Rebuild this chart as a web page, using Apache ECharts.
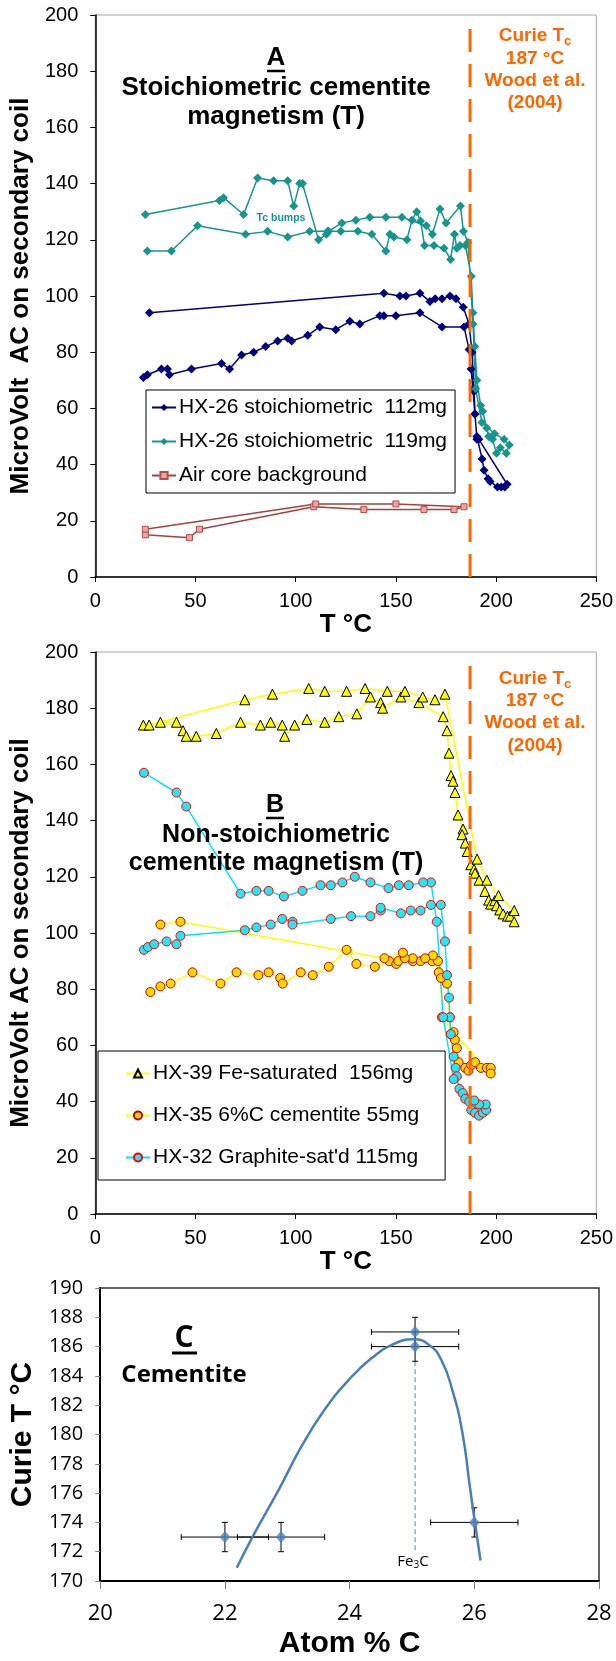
<!DOCTYPE html>
<html>
<head>
<meta charset="utf-8">
<script src="https://cdn.jsdelivr.net/npm/echarts@6/dist/echarts.min.js"></script>
<style>html,body{margin:0;padding:0;background:#fff}#c{width:616px;height:1661px}</style>
</head>
<body>
<div id="c"></div>
<script>
// ---------- Panel A data: [T °C, microvolt] ----------
const hx26_112 = [[24,71],[26,72],[33,74],[36,74],[37,72],[48,74],[63,76],[67,74],[73,79],[79,80],[85,82],[91,84],[96,85],[98,84],[106,86],[112,89],[120,88],[127,91],[132,90],[142,93],[144,93],[150,93],[162,94],[173,89],[184,89],
  [186.5,81],[187.5,74],[188.4,67],[189.4,58],[190.4,50],[193,42],[194,38],[196,35],[197,34],[200.7,32],[202.6,32],[204.3,32],
  [205.5,33],[191.4,49],[190.4,49],[189.5,58],[189,66],[188,80],[186.5,90],[183.6,96],[180,99],[177,100],[173,99],[169.6,99],[167,98],[162,101],[155,100],[152,100],[144,101],[27,94]];
const hx26_119 = [[26,116],[38,116],[51,125],[75,122],[86,123],[96,121],[107,123],[116,123],[122.5,123],[131,123],[138,122],[145,116],[147,122],[149,121],[155.5,120],[158,127],[160.4,130],[162.3,126.7],[164.3,118],[169,118],[174,117],[177.3,113],[179.2,122],[180.4,117],[182,118],[184.7,118],
  [187.6,107],[188.4,94],[189.4,82],[190.4,70],[192.3,61],[193.3,59],[195.3,53],[196.3,50],[198.2,49],[200.2,44],[202.1,46],[205.1,44],[206.6,47],
  [204,49],[199.2,51],[192.9,55],[189.8,67],[188.5,90],[186,119],[183.7,123],[182.2,132],[175,126],[172,131],[168.2,122],[165.2,125],[153,128],[145,128],[137,128],[130,127],[123,126],[116.4,123],[115.3,122],[111.4,120],[103.4,140],[102,140],[99,132],[96,141],[89,141],[81,142],[74,129],[64,135],[62,134],[25,129]];
const airCore = [[25,15],[47,14],[52,17],[109,25],[134,24],[164,24],[179,24],[184,25],[150,26],[110,26],[25,17]];

// ---------- Panel B data ----------
const hx39 = [[24,174],[32.5,175],[40.5,175],[43.8,172],[45.4,170],[50.4,170],[60.4,171],[72.5,175],[82.4,174],[87.5,175],[93.3,174],[94.5,170],[99.5,174],[105.6,176],[114.5,175],[121.5,177],[130.5,178],[137.3,184],[142.4,182],[143.4,180],[152.5,184],[161.5,182],[173.6,177],
  [175.5,172],[176.5,164],[177.5,156],[178.5,154],[179.5,150],[181,142],[183.5,137],[183,135],[184.6,132],[185.6,129],[187.4,124.3],[189,122.7],[189.5,121.3],[191.5,118.8],[194.4,114.8],[196.3,111.7],[197.3,110.3],[199.3,111.5],[200.2,109.7],[201.8,108.2],[203.5,106.8],[205.7,106],[207,106],[209,104],
  [209,108],[201.2,113.3],[195.4,118.8],[190.5,126.3],[174.5,185],[169.5,183],[163.4,184],[154.5,186],[145.7,186],[134.6,187],[125.4,186],[114.5,186],[106.5,187],[88.4,185],[74.6,183],[26.9,174]];
const hx35 = [[27.5,79],[32.5,81],[37.6,82],[48.5,86],[62.5,82],[70.5,86],[81.4,85],[86.5,86],[92.3,84],[93.5,82],[102.5,86],[108.5,85],[116.5,88],[125.4,94],[130.3,89],[139.5,88],[146.7,90],[150.2,89],[151.2,90],[158.4,90],[162.3,90],[168.1,90],[171,90],[171.4,86],[175.5,82],[176.9,70],[177.4,64],[179.4,62],[180.4,59],[181.3,54],[184.6,52],[186.2,51],[187.6,53],[189.5,54],[192.4,52],[195.4,52],[197.3,52],[197.3,50],
  [178.8,64.7],[173,70],[172.5,84],[168.5,92],[164.6,91],[158.4,91],[154.5,91],[153.5,93],[144.3,91],[42.5,104],[32.5,103]];
const hx32 = [[24.3,94],[26.3,95],[29.4,96],[35.6,97],[40.5,96],[42.5,99],[74.6,101],[80.4,102],[87.5,103],[93.3,105],[98.4,104],[98.4,103],[117.5,105],[127.6,106],[137.3,106],[142.4,108],[142.4,109],[152.5,107],[157.4,108],[162.3,108],[167.5,110],[172.4,110],[174.5,97],[175.5,85],[176.5,77],[176.9,70],[177.4,64],[178.8,56],[179.8,52],[180.4,49],[181.7,44.5],[183.3,43],[184.6,41],[186.6,40],[187.6,37],[189.5,36],[191.5,35],[193.4,36],[195,37],[194.8,39],[191.5,39],[189.1,40.4],
  [178.8,48],[173.6,70],[170.4,104],[167.5,118],[163.6,118],[156.4,117],[151.5,117],[146.3,116],[137.3,118],[129.5,120],[123.3,118],[117.5,117],[112.4,117],[103.4,115],[94.1,113],[86.5,115],[80.4,115],[72.5,114],[45.4,145],[40.5,150],[24.3,157]];
const curieT = 187;

// ---------- Panel C data: [atom % C, Curie T, x error, y error] ----------
const curiePts = [[22,173,0.7,1],[22.9,173,0.7,1],[25.05,187,0.7,1],[25.05,186,0.7,1],[26,174,0.7,1]];
const fitCurve = [[22.19,170.9],[22.48,173.3],[22.86,176.2],[23.23,179.2],[23.6,181.7],[23.98,183.7],[24.35,185.2],[24.72,186.2],[25.03,186.5],[25.28,186.1],[25.47,185.1],[25.65,183.0],[25.81,180.1],[25.93,176.4],[26.02,173.7],[26.1,171.4]];
const fe3cLine = [[25.05,185],[25.05,171.9]];

const F = "'Liberation Sans', Arial, sans-serif";
const FC = "'Open Sans', 'Noto Sans', sans-serif";

function xAxisAB(i){return {gridIndex:i,type:'value',min:0,max:250,interval:50,
  axisLine:{show:true,onZero:false,lineStyle:{color:'#000',width:1.5}},
  axisTick:{show:true,length:5,lineStyle:{color:'#000',width:1}},
  axisLabel:{fontSize:20,color:'#000',margin:14,fontFamily:F},
  splitLine:{show:false},name:'T °C',nameLocation:'middle',nameGap:28,
  nameTextStyle:{fontSize:26,fontWeight:'bold',color:'#000',fontFamily:F}};}
function yAxisAB(i,name){return {gridIndex:i,type:'value',min:0,max:200,interval:20,
  axisLine:{show:true,onZero:false,lineStyle:{color:'#000',width:1.5}},
  axisTick:{show:true,length:5,lineStyle:{color:'#000',width:1}},
  axisLabel:{fontSize:20,color:'#000',margin:17,fontFamily:F},
  splitLine:{show:false},name:name,nameLocation:'middle',nameGap:50,
  nameTextStyle:{fontSize:26,fontWeight:'bold',color:'#000',fontFamily:F}};}

function lineSeries(name,data,gi,sym,size,lineColor,fill,border){
  return {type:'line',name:name,xAxisIndex:gi,yAxisIndex:gi,data:data,symbol:sym,symbolSize:size,
    showAllSymbol:true,lineStyle:{color:lineColor,width:1.5},
    itemStyle:{color:fill,borderColor:border||fill,borderWidth:border?1:0},z:2};
}
function curieLine(gi){return {type:'line',xAxisIndex:gi,yAxisIndex:gi,data:[[curieT,0],[curieT,196]],symbol:'none',silent:true,
  lineStyle:{color:'#FF6600',width:3,type:[23,12]},z:5};}

const chart = echarts.init(document.getElementById('c'),null,{renderer:'canvas'});
const curieRich = {a:{fontSize:19,fontWeight:'bold',fill:'#FF6600',fontFamily:F},s:{fontSize:13,fontWeight:'bold',fill:'#FF6600',fontFamily:F,padding:[11,0,0,0]}};
function curieText(cy){return {type:'text',x:535,y:cy,style:{text:'{a|Curie T}{s|c}\n{a|187 °C}\n{a|Wood et al.}\n{a|(2004)}',rich:curieRich,lineHeight:22.3,align:'center',verticalAlign:'middle',fill:'#FF6600',font:'bold 19px '+F},z:10};}

function ctext(x,y,t,font,color){return {type:'text',x:x,y:y,style:{text:t,font:font,fill:color||'#000',align:'center',verticalAlign:'middle'},z:10};}
function uline(x1,x2,y,w){return {type:'line',shape:{x1:x1,y1:y,x2:x2,y2:y},style:{stroke:'#000',lineWidth:w||2.5},z:10};}

chart.setOption({
  animation:false,
  grid:[
    {left:93,top:15,width:504,height:562,show:true,borderColor:'#A6A6A6',borderWidth:1},
    {left:93,top:652,width:504,height:562,show:true,borderColor:'#A6A6A6',borderWidth:1},
    {left:94,top:1288,width:505,height:293,show:true,borderColor:'#333',borderWidth:1.5}
  ],
  xAxis:[xAxisAB(0),xAxisAB(1),
    {gridIndex:2,type:'value',min:20,max:28,interval:2,
     axisLine:{show:true,onZero:false,lineStyle:{color:'#000',width:2}},
     axisTick:{show:true,length:8,lineStyle:{color:'#808080',width:1}},
     axisLabel:{fontSize:22,color:'#000',margin:22,fontFamily:FC},
     splitLine:{show:false},name:'Atom % C',nameLocation:'middle',nameGap:48,
     nameTextStyle:{fontSize:30,fontWeight:'bold',color:'#000',fontFamily:F}}],
  yAxis:[yAxisAB(0,'MicroVolt  AC on secondary coil'),yAxisAB(1,'MicroVolt AC on secondary coil'),
    {gridIndex:2,type:'value',min:170,max:190,interval:2,
     axisLine:{show:true,onZero:false,lineStyle:{color:'#000',width:2}},
     axisTick:{show:true,length:5,lineStyle:{color:'#808080',width:1}},
     axisLabel:{fontSize:20,color:'#000',margin:17,fontFamily:FC},
     splitLine:{show:false},name:'Curie T °C',nameLocation:'middle',nameGap:51,
     nameTextStyle:{fontSize:30,fontWeight:'bold',color:'#000',fontFamily:F}}],
  legend:[
    {data:['HX-26 stoichiometric  112mg','HX-26 stoichiometric  119mg','Air core background'],orient:'vertical',left:146,top:390,
     itemWidth:24,itemHeight:9,itemGap:13,padding:[7,8,7,5],borderColor:'#000',borderWidth:1,backgroundColor:'#fff',
     selectedMode:false,textStyle:{fontSize:21,color:'#000',fontFamily:F,padding:[0,0,0,-2]}},
    {data:['HX-39 Fe-saturated  156mg','HX-35 6%C cementite 55mg',"HX-32 Graphite-sat'd 115mg"],orient:'vertical',left:98,top:1051,
     itemWidth:24,itemHeight:10,itemGap:21,padding:[12,26,12,27],borderColor:'#000',borderWidth:1,backgroundColor:'#fff',
     selectedMode:false,textStyle:{fontSize:21,color:'#000',fontFamily:F,padding:[0,0,0,-2]}}
  ],
  series:[
    lineSeries('HX-26 stoichiometric  112mg',hx26_112,0,'diamond',9,'#000080','#000080'),
    lineSeries('HX-26 stoichiometric  119mg',hx26_119,0,'diamond',9,'#14968F','#14968F'),
    lineSeries('Air core background',airCore,0,'rect',6,'#A8403C','#E8A6A4','#B4504B'),
    curieLine(0),
    lineSeries('HX-39 Fe-saturated  156mg',hx39,1,'triangle',10,'#FFFF00','#FFFF00','#000'),
    lineSeries('HX-35 6%C cementite 55mg',hx35,1,'circle',9,'#FFFF00','#FFD800','#C00000'),
    lineSeries("HX-32 Graphite-sat'd 115mg",hx32,1,'circle',9,'#00E5FF','#22E8F5','#FF0000'),
    curieLine(1),
    {type:'custom',xAxisIndex:2,yAxisIndex:2,data:curiePts,encode:{x:0,y:1},silent:true,z:3,
     renderItem:function(params,api){
       const x=api.value(0),y=api.value(1),ex=api.value(2),ey=api.value(3);
       const l=api.coord([x-ex,y]),r=api.coord([x+ex,y]),t=api.coord([x,y+ey]),b=api.coord([x,y-ey]);
       const st={stroke:'#000',lineWidth:1};const c=3;
       return {type:'group',children:[
         {type:'line',shape:{x1:l[0],y1:l[1],x2:r[0],y2:r[1]},style:st},
         {type:'line',shape:{x1:l[0],y1:l[1]-c,x2:l[0],y2:l[1]+c},style:st},
         {type:'line',shape:{x1:r[0],y1:r[1]-c,x2:r[0],y2:r[1]+c},style:st},
         {type:'line',shape:{x1:t[0],y1:t[1],x2:b[0],y2:b[1]},style:st},
         {type:'line',shape:{x1:t[0]-c,y1:t[1],x2:t[0]+c,y2:t[1]},style:st},
         {type:'line',shape:{x1:b[0]-c,y1:b[1],x2:b[0]+c,y2:b[1]},style:st}
       ]};
     }},
    {type:'line',xAxisIndex:2,yAxisIndex:2,data:fe3cLine,symbol:'none',silent:true,
     lineStyle:{color:'#4F81BD',width:1,type:[5,3]},z:2},
    {type:'line',xAxisIndex:2,yAxisIndex:2,data:fitCurve,smooth:0.5,symbol:'none',silent:true,
     lineStyle:{color:'#4A7EBB',width:2.5},z:4},
    {type:'scatter',xAxisIndex:2,yAxisIndex:2,data:curiePts.map(p=>[p[0],p[1]]),symbol:'diamond',symbolSize:[11,12],
     itemStyle:{color:'#4F81BD'},z:6}
  ],
  graphic:[
    ctext(276,58,'A','bold 26px '+F), uline(267,285,71),
    ctext(276,88,'Stoichiometric cementite','bold 26px '+F),
    ctext(276,117,'magnetism (T)','bold 26px '+F),
    ctext(281,218,'Tc bumps','bold 10.5px '+F,'#14968F'),
    curieText(69.5),
    ctext(275,805,'B','bold 25px '+F), uline(266,284,818),
    ctext(276,835,'Non-stoichiometric','bold 25px '+F),
    ctext(276,863,'cementite magnetism (T)','bold 25px '+F),
    curieText(712),
    ctext(184,1338,'C','bold 30px '+FC), uline(172,197,1353,3),
    ctext(184,1375,'Cementite','bold 24px '+FC),
    {type:'text',x:413,y:1562,style:{text:'{a|Fe}{s|3}{a|C}',rich:{a:{fontSize:15,fontFamily:FC,fill:'#000'},s:{fontSize:10,fontFamily:FC,fill:'#000',padding:[7,0,0,0]}},align:'center',verticalAlign:'middle'},z:10}
  ]
});
</script>
</body>
</html>
